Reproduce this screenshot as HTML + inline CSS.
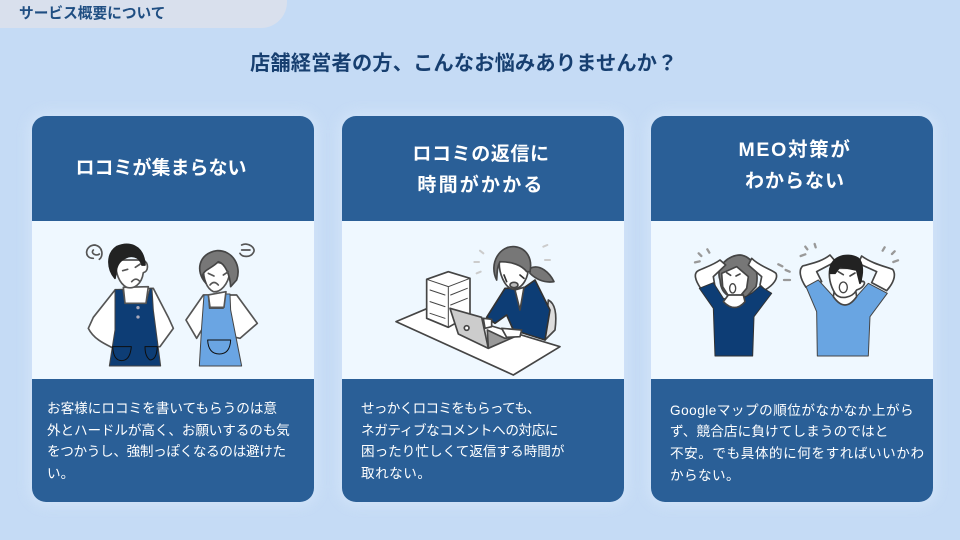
<!DOCTYPE html>
<html lang="ja"><head><meta charset="utf-8"><style>
html,body{margin:0;padding:0}
body{width:960px;height:540px;position:relative;overflow:hidden;background:#c5dbf5;font-family:"Liberation Sans","WenQuanYi Zen Hei","Noto Sans CJK JP",sans-serif}
.tab{position:absolute;left:0;top:0;width:287px;height:28px;background:#d9e0ed;border-bottom-right-radius:26px}
.tabt{position:absolute;left:19px;top:4px;font-size:14.7px;line-height:20px;font-weight:700;color:#1f4e82;white-space:nowrap}
.h{position:absolute;left:250px;top:51px;font-size:20.2px;line-height:26px;font-weight:700;color:#173f70;white-space:nowrap;letter-spacing:.2px}
.card{position:absolute;top:116px;width:282px;height:386px;background:#2a5f97;border-radius:14px;box-shadow:0 0 14px 3px rgba(220,235,252,.6);overflow:hidden}
.w{position:absolute;left:0;top:105px;width:282px;height:158px;background:#eff8ff}
.t{position:absolute;left:0;width:282px;text-align:center;color:#fff;font-weight:700;font-size:19px;line-height:31px;white-space:nowrap}
.t span,.d span{display:block}
.d{position:absolute;color:#fff;font-size:13.6px;line-height:21.7px;white-space:nowrap}
svg{position:absolute;left:0;top:0}
</style></head><body>
<div class="tab"></div><div class="tabt">サービス概要について</div>
<div class="h">店舗経営者の方、こんなお悩みありませんか？</div>
<div class="card" style="left:32px"><div class="w"></div><div class="t" style="top:37px;left:-12px">ロコミが集まらない</div>
<div class="d" style="left:15px;top:282px"><span>お客様にロコミを書いてもらうのは意</span><span style="letter-spacing:-.11px">外とハードルが高く、お願いするのも気</span><span style="letter-spacing:-.33px">をつかうし、強制っぽくなるのは避けた</span><span>い。</span></div></div>
<div class="card" style="left:342px"><div class="w"></div><div class="t" style="top:23px;left:-2px"><span style="letter-spacing:.6px">ロコミの返信に</span><span style="letter-spacing:2.2px">時間がかかる</span></div>
<div class="d" style="left:19px;top:282px"><span style="letter-spacing:-.7px">せっかくロコミをもらっても、</span><span style="letter-spacing:-.4px">ネガティブなコメントへの対応に</span><span>困ったり忙しくて返信する時間が</span><span style="letter-spacing:.5px">取れない。</span></div></div>
<div class="card" style="left:651px"><div class="w"></div><div class="t" style="top:19px;left:3px"><span style="letter-spacing:1.7px;font-size:19.5px">MEO対策が</span><span style="letter-spacing:1px">わからない</span></div>
<div class="d" style="left:19px;top:283.5px"><span style="letter-spacing:.5px">Googleマップの順位がなかなか上がら</span><span style="letter-spacing:.12px">ず、競合店に負けてしまうのではと</span><span style="letter-spacing:.55px">不安。でも具体的に何をすればいいかわ</span><span style="letter-spacing:.4px">からない。</span></div></div>
<svg width="960" height="540" viewBox="0 0 960 540" fill="none" stroke-linejoin="round" stroke-linecap="round">
<defs><filter id="b"><feGaussianBlur stdDeviation=".35"/></filter></defs>
<g filter="url(#b)">
<g transform="translate(60 230) scale(.3333)" stroke="#555" stroke-width="5">
<path d="M100 85C70 85 75 45 105 45C130 50 130 80 118 88M100 60C90 70 110 80 118 72"/>
<path d="M545 45C565 35 590 55 580 68C570 85 545 80 540 70M545 60L570 60"/>
<path d="M165 180L100 262L85 295C100 325 130 340 155 352L300 350L340 295L325 262L280 175Z" fill="#fff"/>
<path d="M165 178H188L195 220H258L270 175H276L280 240L302 408H148L165 300Z" fill="#0d3c74" stroke="#444" stroke-width="3"/>
<path d="M190 172L195 220H258L265 170Z" fill="#fff"/>
<path d="M168 90L250 90C268 100 265 125 250 128C245 165 220 178 200 172C178 160 165 130 168 90Z" fill="#fff"/>
<path d="M165 145C140 115 140 70 170 50C205 35 250 42 255 105L246 105C240 85 225 75 205 80C190 85 175 95 170 115Z" fill="#222" stroke="#222"/>
<path d="M188 122L203 118M226 112L241 102M215 155Q228 140 240 155"/>
<path d="M158 350H214Q210 392 185 392Q160 392 158 350ZM255 350H292Q290 390 270 390Q255 380 255 350Z" stroke="#111" stroke-width="3"/>
<circle cx="234" cy="233" r="5" fill="#aab" stroke="none"/><circle cx="234" cy="261" r="5" fill="#aab" stroke="none"/>
<path d="M430 195L378 270L410 325L425 300L540 325L592 280L530 195Z" fill="#fff"/>
<path d="M432 195H445L448 235H490L497 192H510L512 240L545 408H418L425 290Z" fill="#6aa5e3" stroke="#444" stroke-width="3"/>
<path d="M445 195L450 232H492L498 185Z" fill="#fff"/>
<path d="M430 110C440 90 500 90 510 125C505 165 480 188 460 185C440 175 430 150 430 110Z" fill="#fff"/>
<path d="M438 160C405 125 415 70 470 62C520 60 545 110 530 150L512 170C510 135 495 100 475 95C455 115 432 120 428 135Z" fill="#777" stroke="#444"/>
<path d="M445 130L462 138M490 135L505 125M450 165Q462 150 475 165"/>
<path d="M443 330H512Q510 372 478 372Q445 372 443 330Z" stroke="#111" stroke-width="3"/>
</g>
<g transform="translate(380 230) scale(.3333)" stroke="#444" stroke-width="5">
<path d="M48 275L150 232L540 350L400 435Z" fill="#fff"/>
<path d="M140 148L205 125L270 145V255L205 292L140 265Z" fill="#fff"/>
<path d="M140 148L205 170L270 145M205 170V292M150 180L195 195M150 215L195 230M150 250L195 265M212 195L262 175M212 225L262 205" stroke-width="3"/>
<path d="M505 210Q535 225 525 300L495 330Z" fill="#ddd"/>
<path d="M375 175L320 262L345 280L380 255L400 300L495 330L510 240L465 150L430 175Z" fill="#0d3c74" stroke="#333"/>
<path d="M405 180L432 172L420 240Z" fill="#fff"/>
<path d="M210 235L305 262L325 355L235 312Z" fill="#ccc"/>
<path d="M325 355L322 300L375 325L405 320Z" fill="#999"/>
<path d="M310 265L335 268L335 290L315 295ZM365 295L425 300L420 320L380 322Z" fill="#fff"/>
<circle cx="260" cy="294" r="7" fill="#fff"/>
<path d="M450 115C480 100 510 130 522 155C490 160 465 145 450 130Z" fill="#777"/>
<path d="M358 90L445 100C448 140 430 175 400 178C375 175 355 130 358 90Z" fill="#fff"/>
<path d="M350 150C325 100 360 45 405 50C440 55 458 85 450 125L440 125C425 105 395 95 360 95C350 115 352 130 350 150Z" fill="#777" stroke="#444"/>
<ellipse cx="402" cy="165" rx="12" ry="8" fill="#bbb"/><path d="M372 135L380 155M420 135L432 145" stroke="#333"/>
<path d="M300 62l10 8M283 96h14M290 130l12-5M490 50l12-5M495 90h15" stroke="#ccc" stroke-width="6"/>
</g>
<g transform="translate(680 230) scale(.3333)" stroke="#444" stroke-width="5">
<path d="M120 150C105 105 150 75 180 75C215 78 240 120 228 170L200 200H150C130 190 122 175 120 150Z" fill="#777"/>
<path d="M125 130L170 110L205 140L200 175L175 205L150 205L128 170Z" fill="#fff"/>
<path d="M62 175C45 150 40 130 55 122C75 112 100 105 120 90L137 105L100 140L105 170ZM255 180C280 165 295 145 288 130C275 118 240 110 215 85L205 105L245 140L240 165Z" fill="#fff"/>
<path d="M58 175L100 158L130 205L170 215L215 190L240 168L275 190L222 260L218 378H105L100 235Z" fill="#0d3c74" stroke="#333" stroke-width="3"/>
<path d="M130 215Q165 250 195 215L190 195L145 195Z" fill="#fff"/>
<ellipse cx="158" cy="175" rx="9" ry="14" fill="#fff" stroke-width="4"/>
<path d="M140 128l12 8M168 138l12-6"/>
<path d="M45 97l14-3M56 70l8 8M82 58l6 10M295 103l12 6M317 120l12 5M312 150h18" stroke="#999" stroke-width="7"/>
<path d="M378 172C360 145 355 120 368 108C395 100 425 95 450 75L467 95L410 125L425 155ZM620 182C640 160 650 135 638 118C610 108 575 100 545 78L535 100L590 125L575 158Z" fill="#fff"/>
<path d="M378 170L415 150L465 205H525L565 160L622 190L570 260L565 378H412L410 245Z" fill="#69a5e2" stroke="#444" stroke-width="3"/>
<path d="M460 200Q495 250 530 200L525 170H465Z" fill="#fff"/>
<path d="M450 115H535L545 155C558 150 558 170 530 180C515 205 480 210 465 190C450 165 445 140 450 115Z" fill="#fff"/>
<path d="M450 130C445 80 500 65 535 85C550 100 550 130 540 160L530 120L480 110L465 130Z" fill="#222" stroke="#222"/>
<ellipse cx="490" cy="172" rx="12" ry="16" fill="#fff" stroke-width="4"/>
<path d="M475 125l15 9M510 138l15-9"/>
<path d="M362 78l14-5M376 50l6 8M404 42l3 10M608 62l6-10M636 72l8-8M640 96l14-5" stroke="#999" stroke-width="7"/>
</g>
</g>
</svg>
</body></html>
